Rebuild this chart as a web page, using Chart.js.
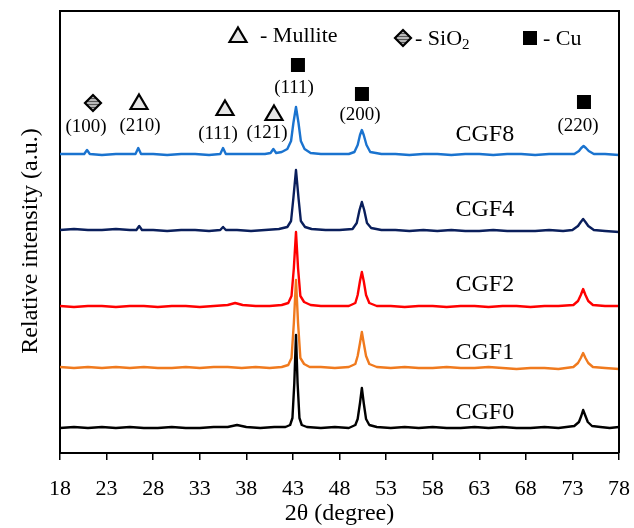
<!DOCTYPE html>
<html><head><meta charset="utf-8">
<script src="https://cdn.jsdelivr.net/npm/chart.js@4/dist/chart.umd.min.js"></script>
<style>html,body{margin:0;padding:0;background:#fff;}canvas{display:block;}</style>
</head><body>
<canvas id="c" width="634" height="528" style="width:634px;height:528px"></canvas>
<script>
// ---- data (2θ in degrees, relative intensity in arbitrary units) ----
const xTicks = [18,23,28,33,38,43,48,53,58,63,68,73,78];

const cgf0 = [[18,25],[19.5,26],[21,25],[22.5,26],[24,25],[25.5,26],[27,25],[28.5,25],[30,26],[31.5,25],[33,25],[34.5,26],[36,26],[37,28],[38,26],[39.5,25],[41,26],[42.2,26],[42.7,28],[42.95,35],[43.15,70],[43.33,118],[43.5,70],[43.7,35],[43.95,28],[44.5,26],[46,25],[47.5,26],[49,25],[49.7,28],[49.95,34],[50.2,50],[50.4,65],[50.6,50],[50.85,34],[51.2,28],[52,26],[53.5,25],[55,26],[56.5,25],[58,26],[59.5,25],[61,25],[62.5,26],[64,25],[65.5,26],[67,25],[68.5,25],[70,26],[71.5,25],[73.2,27],[73.7,31],[73.95,37],[74.15,43],[74.4,37],[74.65,31],[75.1,27],[76,26],[77,25],[78,26]];
const cgf1 = [[18,86],[19.5,85],[21,86],[22.5,85],[24,86],[25.5,85],[27,86],[28.5,85],[30,85],[31.5,86],[33,85],[34.5,86],[36,86],[37.5,85],[39,86],[40.5,85],[41.8,86],[42.5,88],[42.85,95],[43.1,130],[43.33,173],[43.55,130],[43.8,95],[44.2,89],[44.8,86],[46,86],[47.5,85],[49,86],[49.7,89],[49.95,97],[50.2,110],[50.4,121],[50.6,110],[50.85,97],[51.2,89],[52,86],[53.5,85],[55,86],[56.5,85],[58,85],[59.5,86],[61,85],[62.5,85],[64,86],[65.5,85],[67,84],[68.5,85],[70,85],[71.5,84],[73.1,86],[73.6,90],[73.9,95],[74.15,100],[74.4,95],[74.7,90],[75.2,86],[76.5,85],[78,84]];
const cgf2 = [[18,147],[19.5,146],[21,147],[22.5,147],[24,146],[25.5,147],[27,147],[28.5,146],[30,147],[31.5,147],[33,146],[34.5,147],[36,148],[36.8,150],[37.6,148],[39,147],[40.5,147],[41.8,148],[42.5,150],[42.85,157],[43.1,185],[43.33,221],[43.55,185],[43.8,157],[44.2,151],[44.9,148],[46,147],[47.5,147],[49,147],[49.7,150],[49.95,158],[50.2,172],[50.4,181],[50.6,172],[50.85,158],[51.2,150],[52,147],[53.5,147],[55,146],[56.5,147],[58,147],[59.5,146],[61,147],[62.5,147],[64,146],[65.5,147],[67,147],[68.5,146],[70,147],[71.5,147],[73.1,148],[73.6,152],[73.9,158],[74.15,164],[74.4,158],[74.7,152],[75.2,148],[76.5,147],[78,147]];
const cgf4 = [[18,223],[19.5,224],[21,223],[22.5,223],[24,224],[25.5,223],[26.2,223],[26.5,227],[26.8,223],[28,223],[29.5,222],[31,223],[32.5,223],[34,222],[35.2,223],[35.5,226],[35.8,223],[37,223],[38.5,222],[40,223],[41.5,224],[42.4,226],[42.8,232],[43.05,255],[43.33,283],[43.6,255],[43.85,232],[44.3,226],[45,224],[46.5,223],[48,223],[49.4,224],[49.85,230],[50.15,243],[50.4,251],[50.65,243],[50.95,230],[51.4,225],[52.5,223],[54,223],[55.5,222],[57,223],[58.5,222],[60,223],[61.5,222],[63,222],[64.5,223],[66,222],[67.5,222],[69,222],[70.5,223],[72,222],[73,223],[73.6,227],[73.9,231],[74.15,234],[74.4,231],[74.7,227],[75.3,223],[76.5,222],[78,221]];
const cgf8 = [[18,299],[19.5,299],[20.6,299],[20.9,303],[21.2,299],[22.5,298],[24,299],[25.5,299],[26.1,299],[26.4,305],[26.7,299],[28,299],[29.5,298],[31,299],[32.5,299],[34,298],[35.2,299],[35.5,305],[35.8,299],[37,299],[38.5,299],[40,299],[40.6,300],[40.9,304],[41.2,300],[41.8,301],[42.4,304],[42.8,312],[43.05,330],[43.33,346],[43.6,330],[43.85,312],[44.25,304],[44.9,300],[46,299],[47.5,299],[49,299],[49.6,301],[49.95,308],[50.2,318],[50.4,323],[50.6,318],[50.9,308],[51.3,301],[52.5,299],[54,299],[55.5,298],[57,299],[58.5,299],[60,298],[61.5,299],[63,299],[64.5,298],[66,299],[67.5,299],[69,298],[70.5,299],[72,299],[73.2,299],[73.7,302],[73.95,305],[74.2,307],[74.45,305],[74.75,302],[75.3,299],[76.5,299],[78,298]];

const seriesNames = ['CGF0','CGF1','CGF2','CGF4','CGF8'];
const seriesData = [cgf0, cgf1, cgf2, cgf4, cgf8];
const nameX = [63.6,63.6,63.6,63.6,63.6];
const nameY = [40,100,168,243,318];

// phase markers: marker (x,y) and label (x,y)
const cuX = [43.54,50.41,74.24], cuY = [388,359,351];
const cuLabX = [43.12,50.2,73.6], cuLabY = [365,338,327];
const cuLabels = ['(111)','(200)','(220)'];
const mulX = [26.48,35.71,40.97], mulY = [351,345,340];
const mulLabX = [26.59,34.96,40.22], mulLabY = [327,319,320];
const mulLabels = ['(210)','(111)','(121)'];
const sioX = [21.54], sioY = [350];
const sioLabX = [20.79], sioLabY = [326];
const sioLabels = ['(100)'];
const yTitle = 'Relative intensity (a.u.)';

// ---- styles ----
const colors = ['#000000','#F07A1E','#FF0000','#0A1F5C','#1A73CF'];
const SERIF = '"Liberation Serif", "Times New Roman", serif';

function triangle(ctx, cx, cy) {
  ctx.beginPath();
  ctx.moveTo(cx, cy - 7.5); ctx.lineTo(cx + 8.5, cy + 7); ctx.lineTo(cx - 8.5, cy + 7); ctx.closePath();
  ctx.fillStyle = '#e6e6e6'; ctx.fill();
  ctx.lineWidth = 2.2; ctx.strokeStyle = '#000'; ctx.lineJoin = 'miter'; ctx.stroke();
}
function diamond(ctx, cx, cy) {
  ctx.save();
  ctx.beginPath();
  ctx.moveTo(cx, cy - 8); ctx.lineTo(cx + 8, cy); ctx.lineTo(cx, cy + 8); ctx.lineTo(cx - 8, cy); ctx.closePath();
  ctx.fillStyle = '#b8b8b8'; ctx.fill();
  ctx.clip();
  ctx.strokeStyle = '#555'; ctx.lineWidth = 1;
  for (let k = -8; k <= 8; k += 3) { ctx.beginPath(); ctx.moveTo(cx - 8, cy + k + 0.5); ctx.lineTo(cx + 8, cy + k + 0.5); ctx.stroke(); }
  ctx.restore();
  ctx.beginPath();
  ctx.moveTo(cx, cy - 8); ctx.lineTo(cx + 8, cy); ctx.lineTo(cx, cy + 8); ctx.lineTo(cx - 8, cy); ctx.closePath();
  ctx.lineWidth = 2.2; ctx.strokeStyle = '#000'; ctx.stroke();
}
function square(ctx, cx, cy) { ctx.fillStyle = '#000'; ctx.fillRect(cx - 7, cy - 7, 14, 14); }

const decor = {
  id: 'decor',
  afterDraw(chart) {
    const {ctx, chartArea: a, scales: {x, y}} = chart;
    ctx.save();
    ctx.strokeStyle = '#000'; ctx.lineWidth = 2;
    ctx.beginPath(); ctx.moveTo(a.left, a.top); ctx.lineTo(a.right, a.top); ctx.lineTo(a.right, a.bottom); ctx.stroke();
    // y-axis title
    ctx.save();
    ctx.translate(31, 241); ctx.rotate(-Math.PI / 2);
    ctx.font = '24px ' + SERIF; ctx.fillStyle = '#000'; ctx.textAlign = 'center'; ctx.textBaseline = 'middle';
    ctx.fillText(yTitle, 0, 0);
    ctx.restore();
    ctx.textAlign = 'center'; ctx.textBaseline = 'middle'; ctx.fillStyle = '#000';
    ctx.font = '24px ' + SERIF;
    seriesNames.forEach((n, i) => { ctx.fillStyle = '#000'; ctx.fillText(n, x.getPixelForValue(nameX[i]), y.getPixelForValue(nameY[i])); });
    ctx.font = '19px ' + SERIF;
    cuX.forEach((v, i) => { square(ctx, x.getPixelForValue(v), y.getPixelForValue(cuY[i])); ctx.fillStyle = '#000'; ctx.fillText(cuLabels[i], x.getPixelForValue(cuLabX[i]), y.getPixelForValue(cuLabY[i])); });
    mulX.forEach((v, i) => { triangle(ctx, x.getPixelForValue(v), y.getPixelForValue(mulY[i])); ctx.fillStyle = '#000'; ctx.fillText(mulLabels[i], x.getPixelForValue(mulLabX[i]), y.getPixelForValue(mulLabY[i])); });
    sioX.forEach((v, i) => { diamond(ctx, x.getPixelForValue(v), y.getPixelForValue(sioY[i])); ctx.fillStyle = '#000'; ctx.fillText(sioLabels[i], x.getPixelForValue(sioLabX[i]), y.getPixelForValue(sioLabY[i])); });
    ctx.font = '22px ' + SERIF; ctx.textAlign = 'left'; ctx.fillStyle = '#000';
    triangle(ctx, 238, 35);
    ctx.fillStyle = '#000'; ctx.fillText('- Mullite', 260, 36);
    diamond(ctx, 403, 38);
    ctx.fillStyle = '#000'; ctx.fillText('- SiO', 415, 39);
    const w = ctx.measureText('- SiO').width;
    ctx.font = '15px ' + SERIF; ctx.fillText('2', 415 + w, 45);
    square(ctx, 530, 38);
    ctx.font = '22px ' + SERIF; ctx.fillStyle = '#000'; ctx.fillText('- Cu', 543, 39);
    ctx.restore();
  }
};

new Chart(document.getElementById('c'), {
  type: 'line',
  data: {
    datasets: seriesData.map((d, i) => ({
      label: seriesNames[i],
      data: d.map(p => ({x: p[0], y: p[1]})),
      borderColor: colors[i],
      borderWidth: 2.4,
      pointRadius: 0,
      tension: 0,
      borderJoinStyle: 'round',
      fill: false
    }))
  },
  options: {
    responsive: false,
    devicePixelRatio: 1,
    animation: false,
    layout: {padding: {top: 11, right: 15, left: 0, bottom: 0}},
    plugins: {legend: {display: false}, tooltip: {enabled: false}},
    scales: {
      x: {
        type: 'linear', min: 18, max: 78,
        afterBuildTicks: s => { s.ticks = xTicks.map(v => ({value: v})); },
        afterFit: s => { s.height = 75; s.paddingLeft = 0; s.paddingRight = 0; },
        ticks: {color: '#000', font: {family: SERIF, size: 22}, padding: 16, maxRotation: 0, autoSkip: false},
        grid: {display: true, drawOnChartArea: false, drawTicks: true, tickLength: 7, color: '#000', lineWidth: 1.5},
        border: {display: true, color: '#000', width: 2},
        title: {display: true, text: '2θ (degree)', color: '#000', font: {family: SERIF, size: 24}, padding: {top: 0, bottom: 0}}
      },
      y: {
        type: 'linear', min: 0, max: 442,
        afterFit: s => { s.width = 60; },
        ticks: {display: false},
        grid: {display: false},
        border: {display: true, color: '#000', width: 2},
        title: {display: false}
      }
    }
  },
  plugins: [decor]
});
</script>
</body></html>
